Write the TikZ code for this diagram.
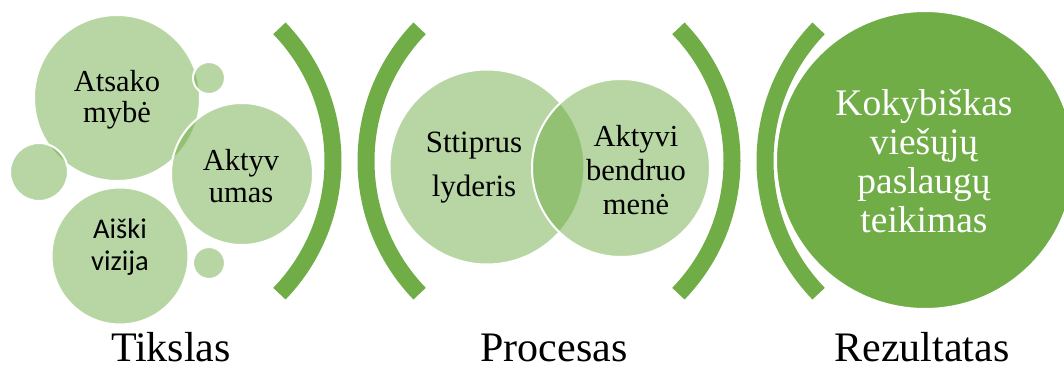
\documentclass[tikz,border=0pt]{standalone}
\usepackage{fontspec}
\setmainfont{Liberation Serif}
\newfontfamily\calibri{Carlito}
\definecolor{leaf}{HTML}{70AD47}
\begin{document}
\begin{tikzpicture}[x=1pt,y=-1pt,
		bubble/.style={circle,fill=leaf,fill opacity=0.5,draw=white,line width=2pt,inner sep=0pt},
		result/.style={circle,fill=leaf,draw=white,line width=2pt,inner sep=0pt},
		bracket/.style={draw=leaf,line width=17pt},
		txt/.style={align=center,font=\fontsize{30.5}{31}\selectfont},
		caption/.style={anchor=base,inner sep=0pt,font=\fontsize{42}{42}\selectfont}]
\useasboundingbox (0,0) rectangle (1064,367);
% Tikslas
\node[bubble,minimum size=166pt] (atsako) at (117,98) {};
\node[bubble,minimum size=32pt] (dotA) at (209,78) {};
\node[bubble,minimum size=58pt] (dotB) at (39,172) {};
\node[bubble,minimum size=142pt] (aktyvumas) at (242,174) {};
\node[bubble,minimum size=137pt] (vizija) at (120,256) {};
\node[bubble,minimum size=32pt] (dotC) at (209,263) {};
\node[txt] (atsakoTxt) at (117,100) {Atsako\\mybė};
\node[txt,font=\fontsize{30.5}{32}\selectfont] (aktyvumasTxt) at (241,176) {Aktyv\\umas};
\node[txt,font=\calibri\fontsize{28.5}{32}\selectfont] (vizijaTxt) at (120,247) {Aiški\\vizija};
% Procesas
\node[bubble,minimum size=195pt] (lyderis) at (487,167) {};
\node[bubble,minimum size=178pt] (bendruomene) at (621,168) {};
\node[txt,font=\fontsize{31}{44}\selectfont] (lyderisTxt) at (474,168) {Sttiprus\\lyderis};
\node[txt,font=\fontsize{30.5}{34}\selectfont] (bendruomeneTxt) at (636,170) {Aktyvi\\bendruo\\menė};
% Rezultatas
\node[result,minimum size=298pt] (paslaugos) at (925,160) {};
\node[txt,text=white,font=\fontsize{37.5}{39}\selectfont] (paslaugosTxt) at (924,161) {Kokybiškas\\viešųjų\\paslaugų\\teikimas};
% skliaustai
\coordinate (c1) at (142,161);
\coordinate (c2) at (557,161);
\coordinate (c3) at (541,161);
\coordinate (c4) at (956,161);
\draw[bracket] (c1) ++(-44:191) arc[start angle=-44,end angle=44,radius=191];
\draw[bracket] (c2) ++(136:191) arc[start angle=136,end angle=224,radius=191];
\draw[bracket] (c3) ++(-44:191) arc[start angle=-44,end angle=44,radius=191];
\draw[bracket] (c4) ++(136:191) arc[start angle=136,end angle=224,radius=191];
% antrastes
\node[caption] (tikslas) at (171,361) {Tikslas};
\node[caption] (procesas) at (554,361) {Procesas};
\node[caption] (rezultatas) at (922,361) {Rezultatas};
\end{tikzpicture}
\end{document}
